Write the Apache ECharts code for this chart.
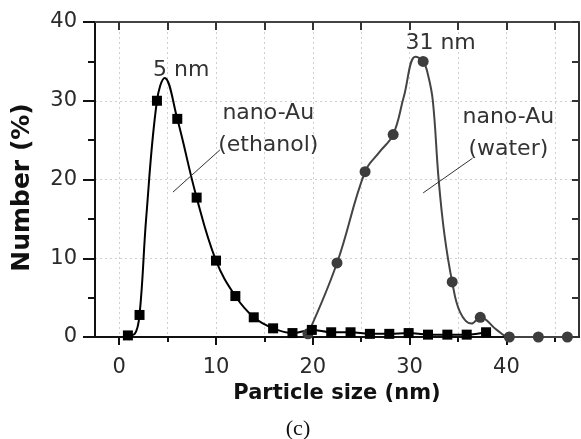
<!DOCTYPE html>
<html lang="en">
<head>
<meta charset="UTF-8">
<title>Particle size distribution</title>
<script src="https://cdn.jsdelivr.net/npm/echarts@6/dist/echarts.min.js"></script>
<style>
  html, body { margin: 0; padding: 0; background: #fff; }
  #chart { width: 581px; height: 439px; }
</style>
</head>
<body>
<div id="chart"></div>
<script>
var ethX = [0.9, 2.1, 3.9, 6.0, 8.0, 10.0, 12.0, 13.9, 15.9, 17.9, 19.9, 21.9, 23.9, 25.9, 27.9, 29.9, 31.9, 33.9, 35.9, 37.9];
var ethY = [0.2, 2.8, 30.0, 27.7, 17.7, 9.7, 5.2, 2.5, 1.1, 0.5, 0.9, 0.6, 0.6, 0.4, 0.4, 0.5, 0.3, 0.3, 0.3, 0.6];
var ethCurveX = [0.9, 1.6, 2.1, 2.8, 3.9, 4.7, 6.0, 8.0, 10.0, 12.0, 13.9, 15.9, 17.9, 19.9, 21.9, 23.9, 25.9, 27.9, 29.9, 31.9, 33.9, 35.9, 37.9];
var ethCurveY = [0.2, 0.4, 2.8, 15.3, 30.0, 32.9, 27.7, 17.7, 9.7, 5.2, 2.5, 1.1, 0.5, 0.9, 0.6, 0.6, 0.4, 0.4, 0.5, 0.3, 0.3, 0.3, 0.6];
// water sample: measured points (circles) and fitted curve
var watX = [19.5, 22.5, 25.4, 28.3, 31.4, 34.4, 37.3, 40.3, 43.3, 46.3];
var watY = [0.4, 9.4, 21.0, 25.7, 35.0, 7.0, 2.5, 0, 0, 0];
var watCurveX = [19.5, 22.5, 25.4, 26.9, 28.3, 29.4, 30.6, 31.4, 31.9, 32.4, 33.0, 33.6, 34.4, 35.2, 36.4, 37.3, 39.0, 40.3, 43.3, 46.3];
var watCurveY = [0.4, 9.4, 21.0, 23.5, 25.7, 30.5, 35.6, 35.0, 33.3, 30.0, 20.0, 13.0, 7.0, 3.2, 1.7, 2.5, 0.9, 0, 0, 0];
// tick positions / labels
var xMajor = [0, 10, 20, 30, 40];
var xMinor = [5, 15, 25, 35, 45];
var xAll = [0, 5, 10, 15, 20, 25, 30, 35, 40, 45];
var yMajor = [0, 10, 20, 30, 40];
var yMinor = [5, 15, 25, 35];
var yAll = [0, 5, 10, 15, 20, 25, 30, 35, 40];

function pairs(xs, ys) {
  return xs.map(function (x, i) { return [x, ys[i]]; });
}

var chart = echarts.init(document.getElementById('chart'));

var labelFont = { fontFamily: 'DejaVu Sans', fontSize: 21, color: '#2a2a2a' };
var annoLabel = { fontFamily: 'DejaVu Sans', fontSize: 22, color: '#333', lineHeight: 32, align: 'center', verticalAlign: 'middle' };
var grid = { color: '#cfcfcf', type: [2, 3], width: 1 };

function textPoint(txt, coord) {
  return {
    coord: coord, symbol: 'rect', symbolSize: 1,
    itemStyle: { color: 'rgba(0,0,0,0)' },
    label: Object.assign({ show: true, position: 'inside', formatter: txt }, annoLabel)
  };
}

function pointer(a, b) {
  return {
    silent: true, symbol: ['none', 'none'],
    lineStyle: { color: '#333', width: 1, type: 'solid' },
    label: { show: false },
    data: [[{ coord: a }, { coord: b }]]
  };
}

var option = {
  backgroundColor: '#fff',
  animation: false,
  grid: { left: 95, right: 2, top: 22, bottom: 102 },
  xAxis: [
    {
      type: 'value', min: -2.5, max: 47.5, position: 'bottom',
      name: 'Particle size (nm)', nameLocation: 'middle', nameGap: 41,
      nameTextStyle: { fontFamily: 'DejaVu Sans', fontWeight: 'bold', fontSize: 21, color: '#111' },
      axisLine: { show: true, onZero: false, lineStyle: { color: '#111', width: 2 } },
      axisTick: { show: true, length: 8, lineStyle: { color: '#111', width: 2 }, customValues: xMajor },
      axisLabel: Object.assign({ margin: 20, customValues: xMajor }, labelFont),
      splitLine: { show: false }
    },
    {
      type: 'value', min: -2.5, max: 47.5, position: 'bottom',
      axisLine: { show: false, onZero: false },
      axisTick: { show: true, length: 5, lineStyle: { color: '#111', width: 2 }, customValues: xMinor },
      axisLabel: { show: false },
      splitLine: { show: false }
    },
    {
      type: 'value', min: -2.5, max: 47.5, position: 'top',
      axisLine: { show: true, onZero: false, lineStyle: { color: '#444', width: 2 } },
      axisTick: { show: true, inside: true, length: 8, lineStyle: { color: '#333', width: 2 }, customValues: xAll },
      axisLabel: { show: false },
      splitLine: { show: true, lineStyle: grid }
    }
  ],
  yAxis: [
    {
      type: 'value', min: 0, max: 40, interval: 5, position: 'left',
      name: 'Number (%)', nameLocation: 'middle', nameGap: 60,
      nameTextStyle: { fontFamily: 'DejaVu Sans', fontWeight: 'bold', fontSize: 25, color: '#111', padding: [0, 16, 0, 0] },
      axisLine: { show: true, onZero: false, lineStyle: { color: '#111', width: 2 } },
      axisTick: { show: true, length: 12, lineStyle: { color: '#111', width: 2 }, customValues: yMajor },
      axisLabel: Object.assign({ margin: 18, customValues: yMajor }, labelFont),
      splitLine: { show: true, lineStyle: grid }
    },
    {
      type: 'value', min: 0, max: 40, interval: 5, position: 'left',
      axisLine: { show: false, onZero: false },
      axisTick: { show: true, length: 7, lineStyle: { color: '#111', width: 2 }, customValues: yMinor },
      axisLabel: { show: false },
      splitLine: { show: false }
    },
    {
      type: 'value', min: 0, max: 40, interval: 5, position: 'right',
      axisLine: { show: true, onZero: false, lineStyle: { color: '#333', width: 2 } },
      axisTick: { show: true, inside: true, length: 7, lineStyle: { color: '#333', width: 2 }, customValues: yAll },
      axisLabel: { show: false },
      splitLine: { show: false }
    }
  ],
  series: [
    {
      name: 'ethanol fit', type: 'line', data: pairs(ethCurveX, ethCurveY),
      smooth: 0.4, showSymbol: false, silent: true,
      lineStyle: { color: '#000', width: 2 }, z: 3,
      markPoint: { silent: true, data: [textPoint('5 nm', [6.4, 33.9]), textPoint('nano-Au\n(ethanol)', [15.4, 26.4])] },
      markLine: pointer([5.55, 18.4], [10.4, 23.75])
    },
    {
      name: 'nano-Au (ethanol)', type: 'scatter', data: pairs(ethX, ethY),
      symbol: 'rect', symbolSize: 10, itemStyle: { color: '#000', opacity: 1 }, z: 4
    },
    {
      name: 'water fit', type: 'line', data: pairs(watCurveX, watCurveY),
      smooth: 0.4, showSymbol: false, silent: true,
      lineStyle: { color: '#444', width: 2 }, z: 2,
      markPoint: { silent: true, data: [textPoint('31 nm', [33.2, 37.3]), textPoint('nano-Au\n(water)', [40.2, 25.9])] },
      markLine: pointer([31.4, 18.3], [36.5, 22.7])
    },
    {
      name: 'nano-Au (water)', type: 'scatter', data: pairs(watX, watY),
      symbol: 'circle', symbolSize: 11, itemStyle: { color: '#3d3d3d', opacity: 1 }, z: 3
    }
  ],
  graphic: [
    {
      type: 'text', x: 298, y: 429,
      style: { text: '(c)', fontFamily: 'Liberation Serif', fontSize: 22, fill: '#111', textAlign: 'center', textVerticalAlign: 'middle' }
    }
  ]
};

chart.setOption(option);
</script>
</body>
</html>
